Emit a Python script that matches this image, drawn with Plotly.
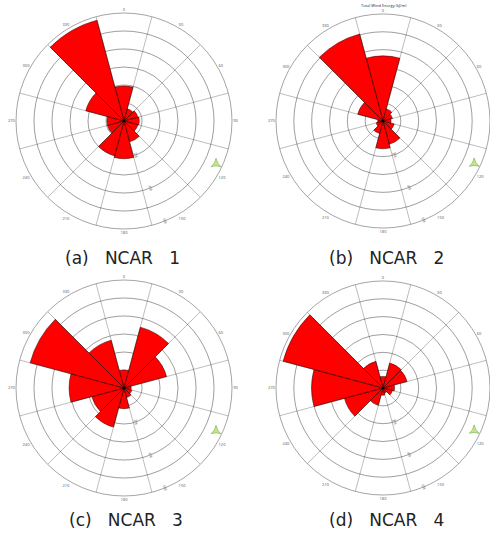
import plotly.graph_objects as go

# ---- data ----
directions = [0, 30, 60, 90, 120, 150, 180, 210, 240, 270, 300, 330]
direction_labels = ["0", "30", "60", "90", "120", "150", "180", "210", "240", "270", "300", "330"]
ncar1 = [1.95, 0.70, 0.80, 0.85, 0.80, 1.20, 2.10, 2.00, 0.95, 0.95, 2.20, 5.80]
ncar2 = [3.65, 0.70, 0.55, 0.45, 0.65, 1.35, 1.56, 0.73, 0.40, 0.30, 1.47, 5.05]
ncar3 = [1.00, 3.50, 2.45, 0.40, 0.45, 0.55, 1.15, 2.25, 1.85, 3.05, 5.40, 2.75]
ncar4 = [0.65, 1.45, 1.40, 0.65, 0.55, 0.30, 0.40, 1.00, 2.24, 4.00, 5.80, 1.55]
gap = "\u00a0\u00a0 "
captions = [f"(a){gap}NCAR{gap}1", f"(b){gap}NCAR{gap}2", f"(c){gap}NCAR{gap}3", f"(d){gap}NCAR{gap}4"]
radial_ticks = [2, 4, 6]
radial_ticktext = ["2%", "4%", "6%"]
series = [ncar1, ncar2, ncar3, ncar4]

W, H = 490, 533
centers = [(124, 121), (384, 121), (124, 388), (384, 388)]
R = 108
RMAX = 6
caption_pos = [(122, 258), (386, 258), (126, 520), (386, 520)]

fig = go.Figure()
layout = dict(width=W, height=H, margin=dict(l=0, r=0, t=0, b=0),
              paper_bgcolor="white", plot_bgcolor="white", showlegend=False,
              annotations=[])

grid = "rgba(0,0,0,0.38)"
spoke_theta = []
spoke_r = []
for d in directions:
    spoke_theta += [d + 15, d + 15, None]
    spoke_r += [0, RMAX, None]

for i, (vals, (cx, cy)) in enumerate(zip(series, centers)):
    key = "polar" if i == 0 else f"polar{i+1}"
    sub = key
    x0 = max(0, (cx - R) / W); x1 = min(1, (cx + R) / W)
    y0 = max(0, (H - cy - R) / H); y1 = min(1, (H - cy + R) / H)
    layout[key] = dict(
        domain=dict(x=[x0, x1], y=[y0, y1]),
        bgcolor="white",
        angularaxis=dict(rotation=90, direction="clockwise",
                         tickmode="array", tickvals=directions,
                         ticktext=direction_labels, showticklabels=True,
                         tickfont=dict(size=4, color="#555"),
                         ticks="", showgrid=False,
                         showline=True, linecolor="rgba(0,0,0,0.45)", linewidth=0.8,
                         layer="above traces"),
        radialaxis=dict(range=[0, RMAX], tickmode="array",
                        tickvals=list(range(1, RMAX + 1)),
                        ticktext=[radial_ticktext[radial_ticks.index(v)] if v in radial_ticks else "" for v in range(1, RMAX + 1)],
                        tickfont=dict(size=4, color="#666"), angle=-66, tickangle=0,
                        showline=False, ticks="", showgrid=True, gridcolor=grid,
                        gridwidth=0.7, layer="above traces"),
    )
    fig.add_trace(go.Barpolar(r=vals, theta=directions, width=[30] * len(directions),
                              marker=dict(color="#ff0000",
                                          line=dict(color="rgba(60,0,0,0.85)", width=0.6)),
                              subplot=sub, hoverinfo="skip"))
    # sector boundary spokes
    fig.add_trace(go.Scatterpolar(r=spoke_r, theta=spoke_theta, mode="lines",
                                  line=dict(color=grid, width=0.7),
                                  subplot=sub, hoverinfo="skip", connectgaps=False))
    # small green compass icon
    fig.add_trace(go.Scatterpolar(r=[RMAX * 0.94], theta=[115], mode="markers",
                                  marker=dict(symbol="star-triangle-up", size=7,
                                              color="#c8e67a",
                                              line=dict(color="#6aa84f", width=0.6)),
                                  cliponaxis=False, subplot=sub, hoverinfo="skip"))
    # center dot
    fig.add_trace(go.Scatterpolar(r=[0], theta=[0], mode="markers",
                                  marker=dict(size=2.5, color="black"),
                                  subplot=sub, hoverinfo="skip"))
    px, py = caption_pos[i]
    layout["annotations"].append(dict(text=captions[i], x=px / W, y=1 - py / H,
                                      xref="paper", yref="paper", showarrow=False,
                                      xanchor="center", yanchor="middle",
                                      font=dict(size=17, color="#222",
                                                family="DejaVu Sans, sans-serif")))

layout["annotations"].append(dict(text="Total Wind Energy (kJ/m)", x=384 / W, y=1 - 5 / H,
                                  xref="paper", yref="paper", showarrow=False,
                                  xanchor="center", yanchor="middle",
                                  font=dict(size=4, color="#222")))

fig.update_layout(**layout)
fig.write_html("out.html", config={"displayModeBar": False},
               post_script="document.body.style.margin='0';document.body.style.overflow='hidden';")
